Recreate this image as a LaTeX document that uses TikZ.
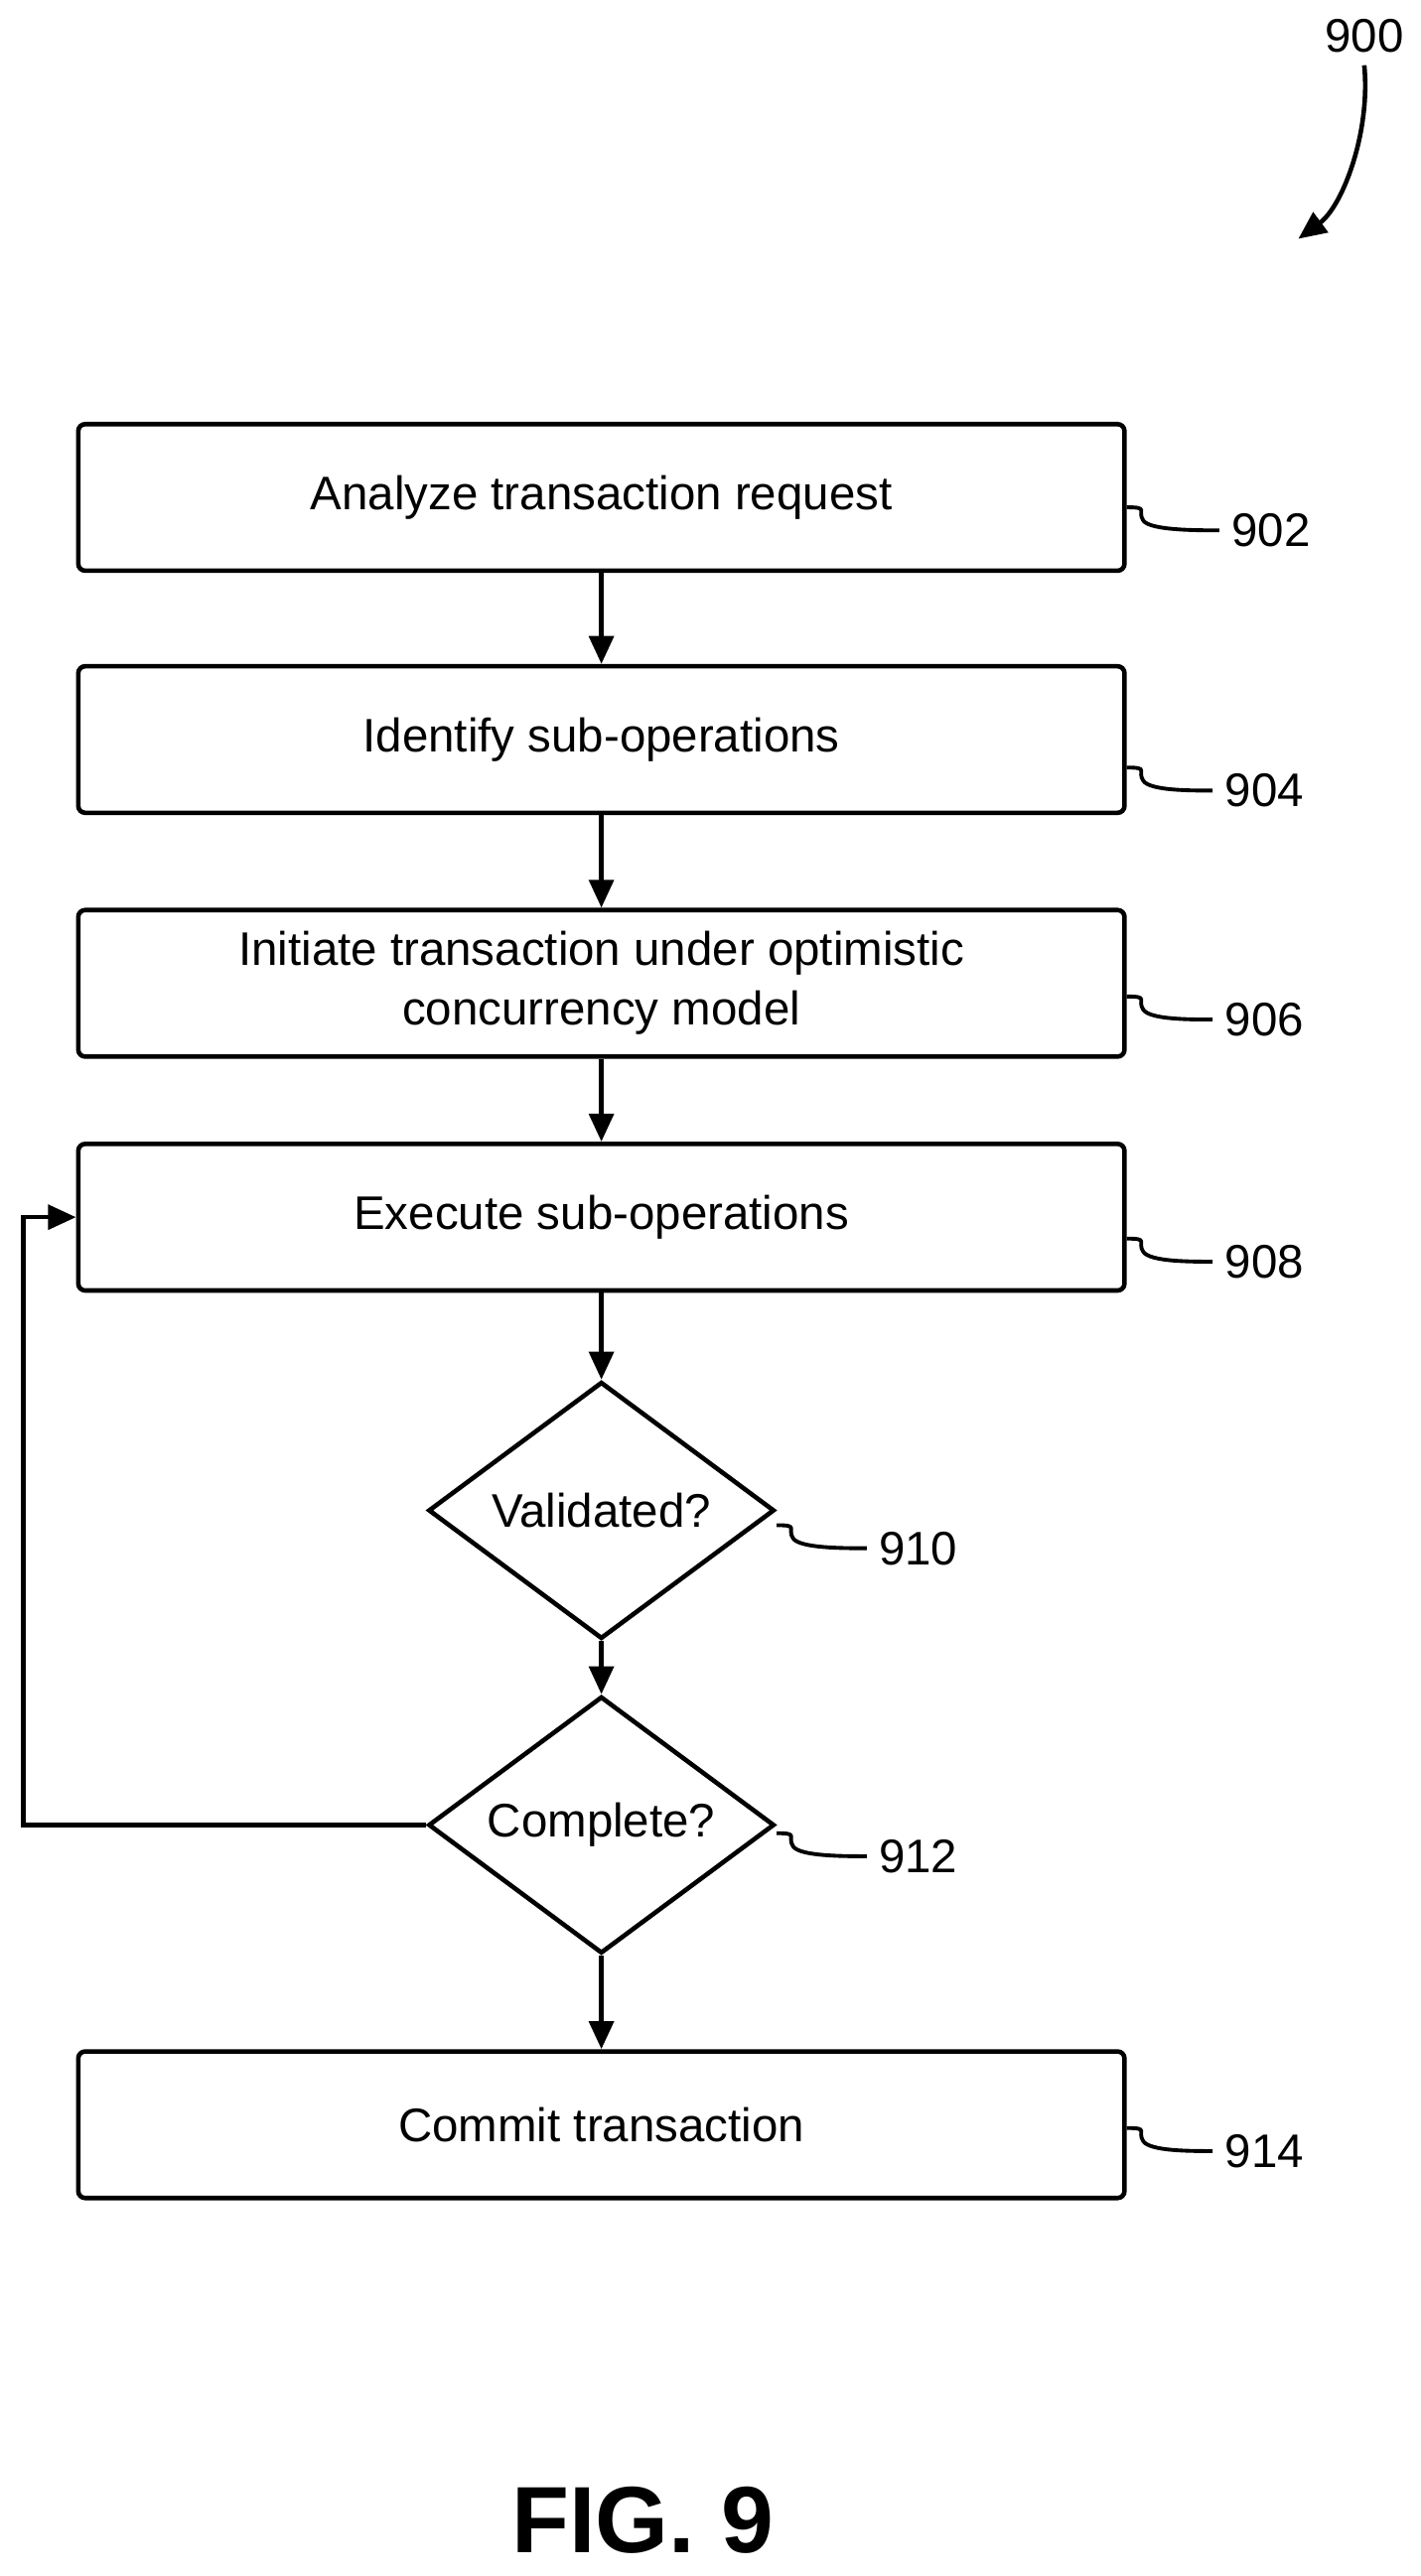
\documentclass[tikz,border=0pt]{standalone}
\usepackage{fontspec}
\setmainfont{Liberation Sans}
\usetikzlibrary{shapes.geometric,arrows.meta}
\tikzset{
  stage/.style={draw, line width=1.3pt, rounded corners=2pt, minimum width=635*0.01659cm, minimum height=89*0.01659cm, align=center, font=\fontsize{13.5}{17}\selectfont},
  test/.style={draw, line width=1.3pt, diamond, aspect=1.35, minimum width=210*0.01659cm, minimum height=156*0.01659cm, inner sep=0pt, font=\fontsize{13.5}{17}\selectfont},
  ref/.style={font=\fontsize{13.5}{17}\selectfont, anchor=west},
  flow/.style={-{Triangle[length=8pt,width=7pt]}, line width=1.3pt},
  squig/.style={line width=1.1pt}
}
\begin{document}
\begin{tikzpicture}[x=0.01659cm, y=-0.01659cm]
  \useasboundingbox (0,0) rectangle (862,1564);
  \node[stage] (s902) at (365,302) {Analyze transaction request};
  \node[stage] (s904) at (365,449) {Identify sub-operations};
  \node[stage] (s906) at (365,597) {Initiate transaction under optimistic\\concurrency model};
  \node[stage] (s908) at (365,739) {Execute sub-operations};
  \node[test] (t910) at (365,917) {Validated?};
  \node[test] (t912) at (365,1108) {Complete?};
  \node[stage] (s914) at (365,1290) {Commit transaction};
  % reference numbers
  \node[ref] (r902) at (740,322) {902};
  \node[ref] (r904) at (736,480) {904};
  \node[ref] (r906) at (736,619) {906};
  \node[ref] (r908) at (736,766) {908};
  \node[ref] (r910) at (526,940) {910};
  \node[ref] (r912) at (526,1127) {912};
  \node[ref] (r914) at (736,1306) {914};
  \node[font=\fontsize{13.5}{17}\selectfont] (r900) at (828,22) {900};
  \node[font=\bfseries\fontsize{27}{32}\selectfont] (fig) at (390,1530) {FIG. 9};
  % flow
  \draw[flow] (s902) -- (s904);
  \draw[flow] (s904) -- (s906);
  \draw[flow] (s906) -- (s908);
  \draw[flow] (s908) -- (t910);
  \draw[flow] (t910) -- (t912);
  \draw[flow] (t912) -- (s914);
  \draw[flow] (t912.west) -| (14,739) -- (s908.west);
  % leaders
  \foreach \b/\r in {s902/r902, s904/r904, s906/r906, s908/r908, t910/r910, t912/r912, s914/r914}
    \draw[squig] (\b.east|-\r.west) ++(0,-14) .. controls +(14,0) and +(-4,-6) .. ++(10,8)
      .. controls +(4,6) and +(-14,0) .. (\r.west);
  \coordinate (tip900) at (788,145);
  \draw[flow] (r900.south) .. controls (832,80) and (815,125) .. (tip900);
\end{tikzpicture}
\end{document}
